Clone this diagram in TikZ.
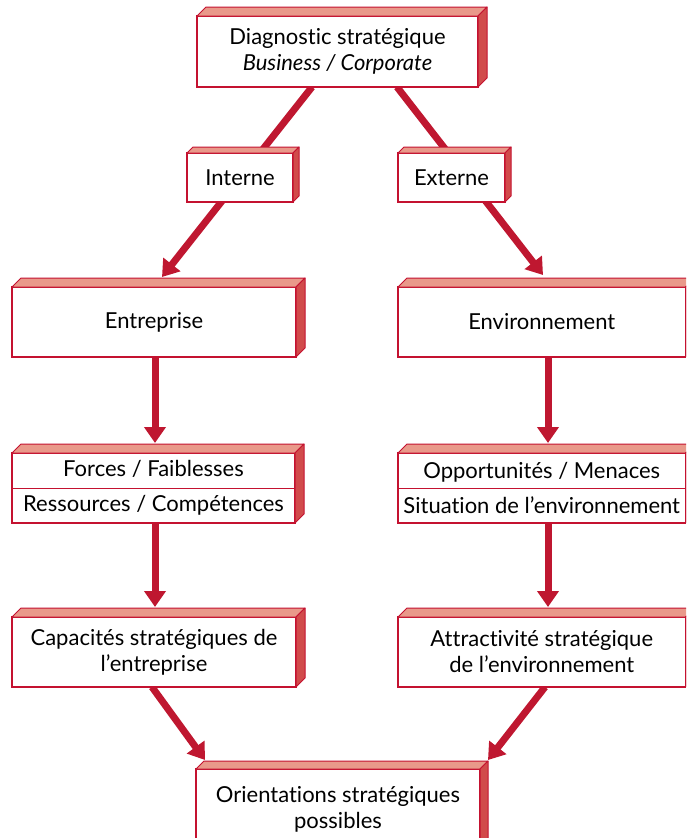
\documentclass[tikz,border=0pt]{standalone}
\usepackage{fontspec}
\setmainfont{Lato}[Ligatures=NoCommon]
\usetikzlibrary{arrows.meta,calc}
\pgfdeclarelayer{background}
\pgfsetlayers{background,main}

\definecolor{boxred}{HTML}{C41230}
\definecolor{topsalmon}{HTML}{E9998A}
\definecolor{sidered}{HTML}{D14B4B}
\definecolor{arrowred}{HTML}{BF1730}

\tikzset{
  box/.style={draw=boxred, fill=white, line width=1.2pt, inner sep=0pt, outer sep=0pt,
    align=center, text=black, font=\fontsize{22}{26}\selectfont},
  splitbox/.style={box, font=\fontsize{22}{35}\selectfont},
  face/.style={draw=boxred, line width=1pt, line join=round},
  arr/.style={draw=arrowred, line width=7pt,
    -{Triangle[length=16pt,width=21pt]}},
}

% top and right faces that give a box its depth
\newcommand\prismfaces[2]{%
  \filldraw[face, fill=topsalmon] (#1.north west) -- ++(#2,-#2)
    -- ($(#1.north east)+(#2,-#2)$) -- (#1.north east) -- cycle;
  \filldraw[face, fill=sidered] (#1.north east) -- ++(#2,-#2)
    -- ($(#1.south east)+(#2,-#2)$) -- (#1.south east) -- cycle;
}

\begin{document}
\begin{tikzpicture}[x=1pt, y=-1pt]
\useasboundingbox (0,0) rectangle (686,838);
\clip (0,0) rectangle (686,838);

% boxes
\node[box, minimum width=281, minimum height=71] (diag) at (337.5,51.5)
  {Diagnostic stratégique\\\textit{Business / Corporate}};
\node[box, minimum width=106, minimum height=49] (int) at (240,177.5) {Interne};
\node[box, minimum width=107, minimum height=49] (ext) at (451.5,177.5) {Externe};
\node[box, minimum width=284, minimum height=70] (ent) at (154,322) {Entreprise};
\node[box, minimum width=287.5, minimum height=70] (env) at (541.75,322) {Environnement};
\node[splitbox, minimum width=283, minimum height=70] (forces) at (153.5,488)
  {Forces / Faiblesses\\Ressources / Compétences};
\node[splitbox, minimum width=287.5, minimum height=70] (opp) at (541.75,488)
  {Opportunités / Menaces\\Situation de l’environnement};
\node[box, minimum width=284, minimum height=70] (cap) at (154,652)
  {Capacités stratégiques de\\l’entreprise};
\node[box, minimum width=287.5, minimum height=70] (att) at (541.75,652)
  {Attractivité stratégique\\de l’environnement};
\node[box, minimum width=284, minimum height=81] (ori) at (338,809.5)
  {Orientations stratégiques\\possibles};

% dividers of the two-row boxes
\draw[boxred, line width=1pt] (forces.west) -- (forces.east);
\draw[boxred, line width=1pt] (opp.west) -- (opp.east);

% depth faces
\prismfaces{diag}{9}
\prismfaces{int}{6}
\prismfaces{ext}{6}
\prismfaces{ent}{9}
\prismfaces{env}{9}
\prismfaces{forces}{9}
\prismfaces{opp}{9}
\prismfaces{cap}{9}
\prismfaces{att}{9}
\prismfaces{ori}{8}

% connectors, drawn behind the boxes
\begin{pgfonlayer}{background}
\draw[arr] ($(diag.south west)+(115,0)$) -- ($(ent.north west)+(150,-10)$);
\draw[arr] ($(diag.south west)+(200,0)$) -- ($(env.north west)+(145,-12)$);
\draw[arr] ($(ent.south west)+(143,0)$) -- ($(forces.north west)+(143,-10)$);
\draw[arr] ($(forces.south west)+(143,0)$) -- ($(cap.north west)+(143,-10)$);
\draw[arr] ($(env.south west)+(150,0)$) -- ($(opp.north west)+(150,-10)$);
\draw[arr] ($(opp.south west)+(150,0)$) -- ($(att.north west)+(150,-10)$);
\draw[arr] ($(cap.south west)+(140,0)$) -- ($(ori.north west)+(9,-9)$);
\draw[arr] ($(att.south west)+(147,0)$) -- ($(ori.north east)+(8,-9)$);
\end{pgfonlayer}
\end{tikzpicture}
\end{document}
